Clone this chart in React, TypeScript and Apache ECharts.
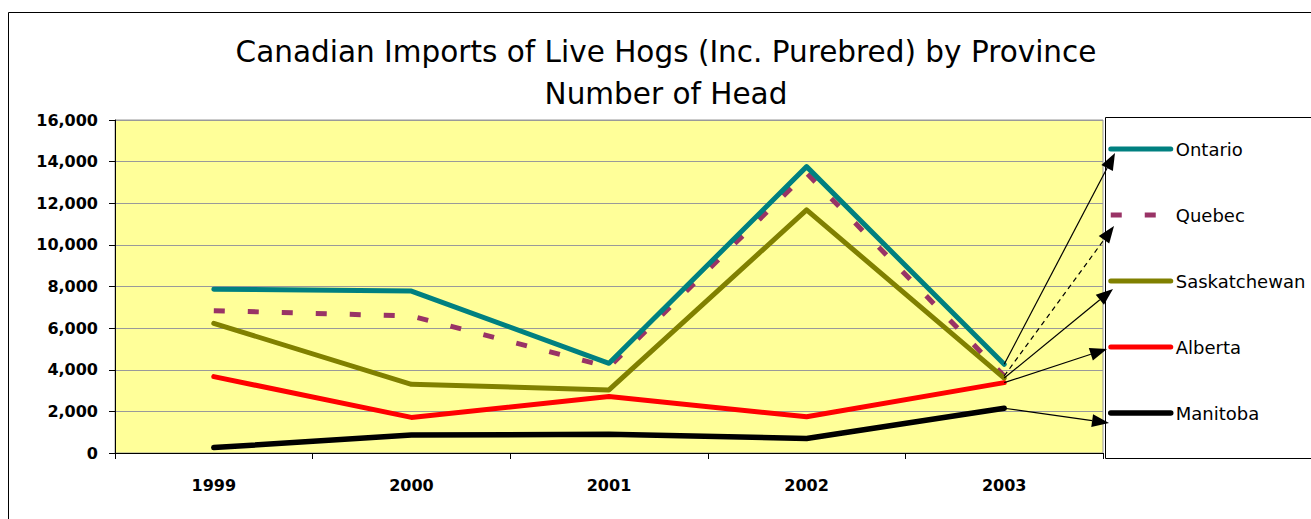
import { useEffect, useRef } from "react";
import * as echarts from "echarts";

const years = ["1999", "2000", "2001", "2002", "2003"];
const ontario = [7870, 7780, 4310, 13760, 4260];
const quebec = [6840, 6580, 4130, 13450, 3700];
const saskatchewan = [6230, 3300, 3030, 11680, 3600];
const alberta = [3670, 1710, 2710, 1740, 3380];
const manitoba = [260, 860, 900, 700, 2150];
const seriesNames = ["Ontario", "Quebec", "Saskatchewan", "Alberta", "Manitoba"];
const seriesColors = ["#008080", "#993366", "#808000", "#FF0000", "#000000"];
const titleText = "Canadian Imports of Live Hogs (Inc. Purebred) by Province\nNumber of Head";

// pixel targets for the annotation arrows (next to the legend entries)
const arrowTargets: [number, number][] = [
  [1115, 153],
  [1114, 226],
  [1113, 289],
  [1107, 349],
  [1109, 423],
];

function arrow(from: number[], to: number[], dashed: boolean) {
  const dx = to[0] - from[0];
  const dy = to[1] - from[1];
  const len = Math.hypot(dx, dy) || 1;
  const ux = dx / len;
  const uy = dy / len;
  const head = 17;
  const half = 6.5;
  const bx = to[0] - ux * head;
  const by = to[1] - uy * head;
  return [
    {
      type: "line",
      z: 20,
      silent: true,
      shape: { x1: from[0], y1: from[1], x2: bx, y2: by },
      style: { stroke: "#000", lineWidth: 1.2, lineDash: dashed ? [5, 4] : null },
    },
    {
      type: "polygon",
      z: 20,
      silent: true,
      shape: {
        points: [
          [to[0], to[1]],
          [bx - uy * half, by + ux * half],
          [bx + uy * half, by - ux * half],
        ],
      },
      style: { fill: "#000" },
    },
  ];
}

export default function App() {
  const ref = useRef<HTMLDivElement>(null);
  useEffect(() => {
    if (!ref.current) return;
    const chart = echarts.init(ref.current, null, { renderer: "svg" });
    const allData = [ontario, quebec, saskatchewan, alberta, manitoba];
    chart.setOption({
      animation: false,
      title: {
        text: titleText,
        left: 666,
        top: 31,
        padding: 0,
        textAlign: "center",
        textStyle: {
          fontFamily: "DejaVu Sans",
          fontSize: 29.5,
          fontWeight: "normal",
          color: "#000",
          lineHeight: 42,
        },
      },
      legend: {
        orient: "vertical",
        left: 1108,
        top: 140,
        padding: 0,
        itemWidth: 60,
        itemHeight: 20,
        itemGap: 48,
        data: seriesNames,
        textStyle: { fontFamily: "DejaVu Sans", fontSize: 18, color: "#000" },
        lineStyle: { width: "inherit" },
        itemStyle: { opacity: 0 },
      },
      grid: {
        left: 115,
        top: 120,
        width: 988,
        height: 333,
        show: true,
        backgroundColor: "#FFFF99",
        borderColor: "#999",
        borderWidth: 1,
        outerBoundsMode: "none",
      },
      xAxis: {
        type: "category",
        data: years,
        boundaryGap: true,
        axisLine: { lineStyle: { color: "#000", width: 1 } },
        axisTick: { show: true, length: 6, lineStyle: { color: "#000" } },
        axisLabel: {
          margin: 24,
          fontFamily: "DejaVu Sans",
          fontWeight: "bold",
          fontSize: 16,
          color: "#000",
        },
      },
      yAxis: {
        type: "value",
        min: 0,
        max: 16000,
        interval: 2000,
        axisLine: { show: true, lineStyle: { color: "#000", width: 1 } },
        axisTick: { show: true, length: 6, lineStyle: { color: "#000" } },
        splitLine: { show: true, lineStyle: { color: "#9a9a9a", width: 1 } },
        axisLabel: {
          margin: 17,
          fontFamily: "DejaVu Sans",
          fontWeight: "bold",
          fontSize: 16,
          color: "#000",
          formatter: (v: number) => v.toLocaleString("en-US"),
        },
      },
      series: seriesNames.map((name, i) => ({
        name,
        type: "line",
        data: allData[i],
        symbol: "none",
        z: i === 1 ? 1 : 2,
        color: seriesColors[i],
        lineStyle: {
          color: seriesColors[i],
          width: i === 4 ? 5.5 : 5,
          type: i === 1 ? [11, 23] : "solid",
          cap: i === 1 ? "butt" : "round",
          join: "round",
        },
      })),
    });

    const graphics: any[] = [
      {
        type: "rect",
        z: 0,
        silent: true,
        shape: { x: 8.5, y: 12.5, width: 1400, height: 600 },
        style: { fill: "none", stroke: "#000", lineWidth: 1 },
      },
      {
        type: "rect",
        z: 0,
        silent: true,
        shape: { x: 1105.5, y: 117.5, width: 300, height: 341 },
        style: { fill: "#fff", stroke: "#000", lineWidth: 1 },
      },
    ];
    allData.forEach((d, i) => {
      const p = chart.convertToPixel({ xAxisIndex: 0, yAxisIndex: 0 }, [4, d[4]]) as number[];
      graphics.push(...arrow(p, arrowTargets[i], i === 1));
    });
    chart.setOption({ graphic: graphics });

    return () => chart.dispose();
  }, []);
  return (
    <div
      ref={ref}
      style={{ position: "absolute", left: 0, top: 0, width: 1311, height: 519, background: "#fff" }}
    />
  );
}
